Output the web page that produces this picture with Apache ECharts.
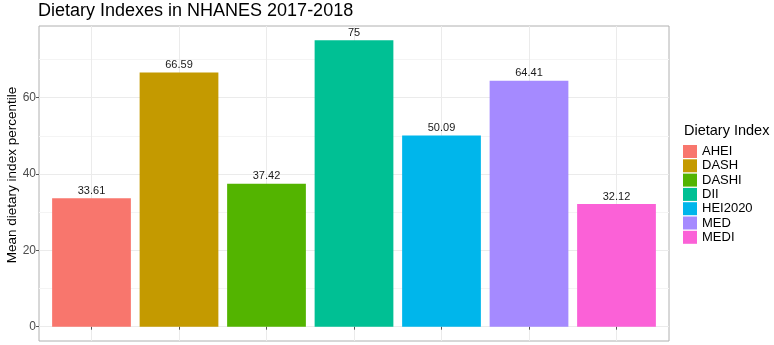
<!DOCTYPE html>
<html>
<head>
<meta charset="utf-8">
<script src="https://cdn.jsdelivr.net/npm/echarts@6/dist/echarts.min.js"></script>
<style>
  html, body { margin: 0; padding: 0; background: #fff; }
  #chart { width: 774px; height: 345px; }
</style>
</head>
<body>
<div id="chart"></div>
<script>
// data
const categories = ['AHEI', 'DASH', 'DASHI', 'DII', 'HEI2020', 'MED', 'MEDI'];
const values = [33.61, 66.59, 37.42, 75, 50.09, 64.41, 32.12];
const colors = ['#F8766D', '#C49A00', '#53B400', '#00C094', '#00B6EB', '#A58AFF', '#FB61D7'];
const yTicks = [0, 20, 40, 60];

// panel geometry (ggplot style expansion)
const panel = { left: 39, top: 26, width: 630, height: 315 };
const yMin = -3.75, yMax = 78.75;
const pxPerY = panel.height / (yMax - yMin);
const zeroY = panel.top + yMax * pxPerY;
const pxPerX = panel.width / 7.2;

const chart = echarts.init(document.getElementById('chart'));

const fontFamily = '"Liberation Sans", Arial, sans-serif';
const grid2y = v => zeroY - v * pxPerY;

const series = categories.map((name, i) => ({
  name: name,
  type: 'bar',
  xAxisIndex: 0,
  yAxisIndex: 0,
  barWidth: pxPerX * 0.9,
  barGap: '-100%',
  itemStyle: { color: colors[i] },
  label: {
    show: true,
    position: 'top',
    distance: 2,
    color: '#1a1a1a',
    fontSize: 11,
    fontFamily: fontFamily,
    formatter: p => String(values[i])
  },
  data: [[i, values[i]]]
}));

const gridBase = { outerBoundsMode: 'none', containLabel: false };

const option = {
  animation: false,
  title: [
    {
      text: 'Dietary Indexes in NHANES 2017-2018',
      left: 38, top: 2, padding: 0,
      textStyle: { fontSize: 18, fontWeight: 'normal', color: '#000', fontFamily: fontFamily }
    },
    {
      text: 'Dietary Index',
      left: 684, top: 123, padding: 0,
      textStyle: { fontSize: 14.5, fontWeight: 'normal', color: '#000', fontFamily: fontFamily }
    }
  ],
  graphic: [
    {
      type: 'text',
      x: 12, y: 175,
      rotation: Math.PI / 2,
      style: {
        text: 'Mean dietary index percentile',
        fontSize: 13.5, fill: '#000', fontFamily: fontFamily,
        textAlign: 'center', textVerticalAlign: 'middle'
      }
    }
  ],
  legend: {
    orient: 'vertical',
    left: 683, top: 145, padding: 0,
    icon: 'rect',
    itemWidth: 14, itemHeight: 13,
    itemGap: 1.3,
    selectedMode: false,
    textStyle: { fontSize: 13, color: '#000', fontFamily: fontFamily },
    data: categories
  },
  grid: [
    // 0: bars + border
    Object.assign({ left: panel.left, top: panel.top, width: panel.width, height: panel.height,
      show: true, borderColor: '#b0b0b0', borderWidth: 1, backgroundColor: 'transparent' }, gridBase),
    // 1: vertical grid lines + x ticks
    Object.assign({ left: panel.left + 0.6 * pxPerX, top: panel.top, width: 6 * pxPerX, height: panel.height }, gridBase),
    // 2: major y grid lines + labels
    Object.assign({ left: panel.left, top: grid2y(60), width: panel.width, height: 60 * pxPerY }, gridBase),
    // 3: minor y grid lines
    Object.assign({ left: panel.left, top: grid2y(70), width: panel.width, height: 60 * pxPerY }, gridBase)
  ],
  xAxis: [
    { gridIndex: 0, type: 'value', min: -0.6, max: 6.6, show: false },
    { gridIndex: 1, type: 'value', min: 0, max: 6, interval: 1,
      axisLine: { show: false },
      axisTick: { show: true, length: 3, lineStyle: { color: '#555' } },
      axisLabel: { show: false },
      splitLine: { show: true, lineStyle: { color: '#ebebeb', width: 1 } } },
    { gridIndex: 2, type: 'value', show: false },
    { gridIndex: 3, type: 'value', show: false }
  ],
  yAxis: [
    { gridIndex: 0, type: 'value', min: yMin, max: yMax, show: false },
    { gridIndex: 1, type: 'value', min: yMin, max: yMax, show: false },
    { gridIndex: 2, type: 'value', min: yTicks[0], max: yTicks[yTicks.length - 1], interval: 20,
      axisLine: { show: false },
      axisTick: { show: true, length: 3, lineStyle: { color: '#555' } },
      axisLabel: { show: true, margin: 3, fontSize: 12, color: '#4d4d4d', fontFamily: fontFamily },
      splitLine: { show: true, lineStyle: { color: '#ebebeb', width: 1 } } },
    { gridIndex: 3, type: 'value', min: 10, max: 70, interval: 20,
      axisLine: { show: false }, axisTick: { show: false }, axisLabel: { show: false },
      splitLine: { show: true, lineStyle: { color: '#f4f4f4', width: 1 } } }
  ],
  series: series
};

chart.setOption(option);
window.addEventListener('resize', () => chart.resize());
</script>
</body>
</html>
